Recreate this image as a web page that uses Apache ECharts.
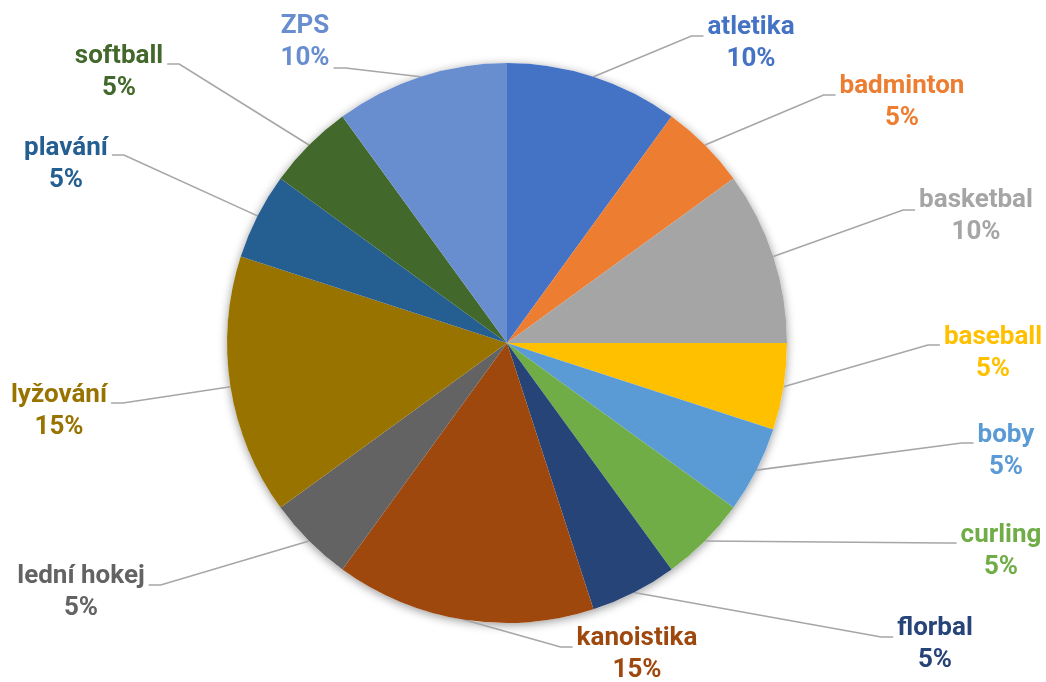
<!DOCTYPE html>
<html>
<head>
<meta charset="utf-8">
<script src="https://cdn.jsdelivr.net/npm/echarts@6/dist/echarts.min.js"></script>
<style>
  html, body { margin: 0; padding: 0; background: #fff; }
  #chart { width: 1046px; height: 682px; }
</style>
</head>
<body>
<div id="chart"></div>
<script>
(function () {
  var sports = ['atletika', 'badminton', 'basketbal', 'baseball', 'boby', 'curling', 'florbal',
    'kanoistika', 'lední hokej', 'lyžování', 'plavání', 'softball', 'ZPS'];
  var shares = [10, 5, 10, 5, 5, 5, 5, 15, 5, 15, 5, 5, 10];
  var colors = ['#4472C4', '#ED7D31', '#A5A5A5', '#FFC000', '#5B9BD5', '#70AD47', '#264478',
    '#9E480E', '#636363', '#997300', '#255E91', '#43682B', '#698ED0'];

  /* label block centre and where the leader meets it (offset from centre) */
  var labelSpots = [
    [751, 43.5, -7.5], [902, 102.5, -7.5], [976, 216.5, -6.5], [993, 353.5, -8.5],
    [1006, 451, -8], [1001, 551, -8], [935, 644, -7], [637, 654.5, -7.5],
    [81, 592.5, -7.5], [59, 411, -8], [66, 164, -9], [119, 72.5, -8.5], [305, 42.5, 25.5]
  ];

  var el = document.getElementById('chart');
  var chart = echarts.init(el, null, { renderer: 'canvas' });

  var data = sports.map(function (name, i) {
    return {
      name: name,
      value: shares[i],
      itemStyle: { color: colors[i] },
      label: { color: colors[i] }
    };
  });

  chart.setOption({
    animation: false,
    backgroundColor: '#fff',
    series: [
      {
        // soft shadow under the pie
        type: 'pie',
        silent: true,
        center: [507, 343],
        radius: 280,
        z: 1,
        label: { show: false },
        labelLine: { show: false },
        itemStyle: {
          color: '#fff',
          borderWidth: 0,
          shadowBlur: 10,
          shadowOffsetY: 2,
          shadowColor: 'rgba(0,0,0,0.4)'
        },
        data: [{ value: 1, name: '' }]
      },
      {
        type: 'pie',
        center: [507, 343],
        radius: 280,
        z: 2,
        startAngle: 90,
        clockwise: true,
        avoidLabelOverlap: false,
        percentPrecision: 0,
        itemStyle: { borderWidth: 0 },
        label: {
          show: true,
          position: 'outside',
          formatter: '{b}\n{d}%',
          fontFamily: 'Roboto',
          fontWeight: 'bold',
          fontSize: 26,
          lineHeight: 32,
          align: 'center'
        },
        labelLine: {
          show: true,
          length: 15,
          length2: 15,
          lineStyle: { color: '#a6a6a6', width: 1.6 }
        },
        labelLayout: function (p) {
          var s = labelSpots[p.dataIndex];
          var edge = p.labelLinePoints ? p.labelLinePoints[0] : [s[0], s[1]];
          var w = p.labelRect.width;
          var right = s[0] > edge[0];
          var ax = right ? s[0] - w / 2 - 4 : s[0] + w / 2 + 4;
          var ay = s[1] + s[2];
          var bx = right ? ax - 12 : ax + 12;
          return {
            x: s[0],
            y: s[1],
            align: 'center',
            verticalAlign: 'middle',
            labelLinePoints: [[edge[0], edge[1]], [bx, ay], [ax, ay]]
          };
        },
        data: data
      }
    ]
  });

  window.addEventListener('resize', function () { chart.resize(); });
})();
</script>
</body>
</html>
